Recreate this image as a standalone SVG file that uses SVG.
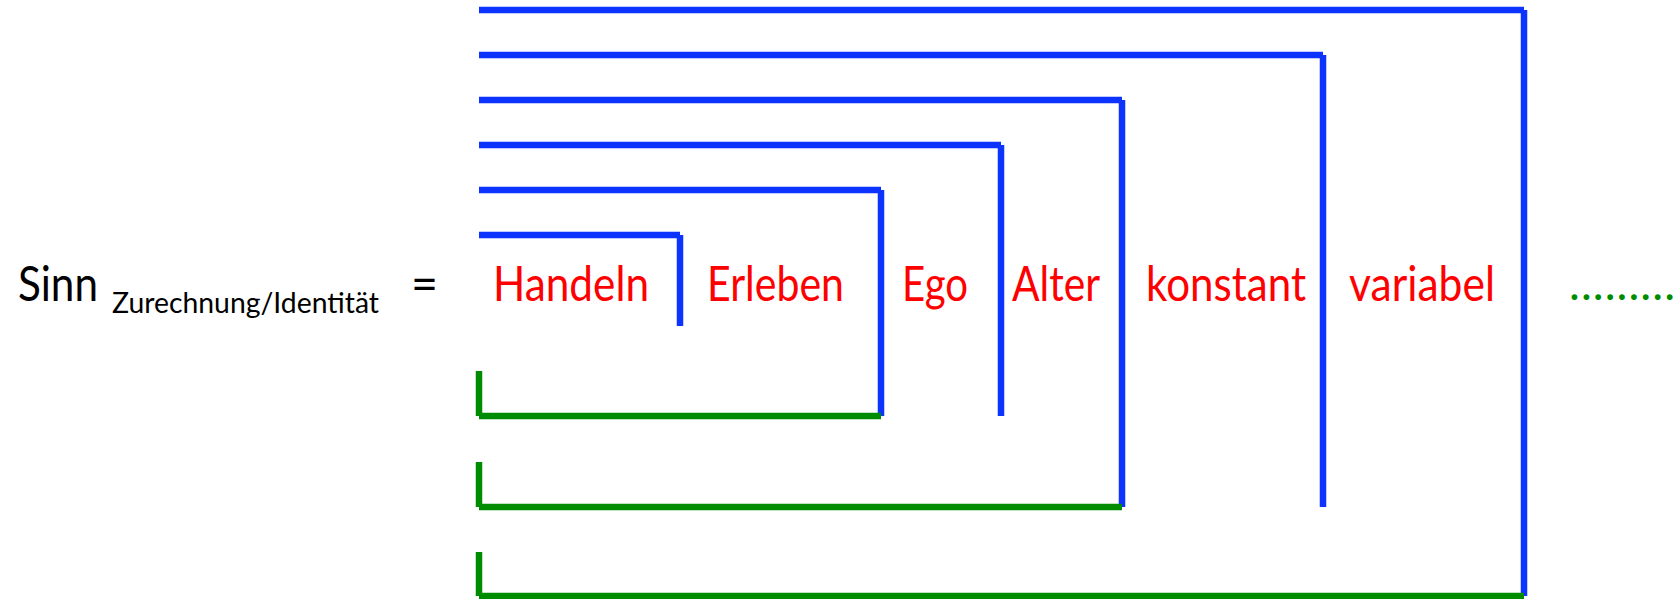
<svg xmlns="http://www.w3.org/2000/svg" width="1677" height="599" viewBox="0 0 1677 599">
<style>
.b{stroke:#0D33FF;stroke-width:6.5;fill:none;stroke-linecap:butt}
.g{stroke:#008C00;stroke-width:6.5;fill:none;stroke-linecap:butt}
.lbl{font-family:Lato,"Liberation Sans",sans-serif;font-size:49px;fill:#FF0000}
.blk{font-family:Lato,"Liberation Sans",sans-serif;fill:#000}
</style>
<rect width="1677" height="599" fill="#fff"/>
<g id="formula">
<text class="blk" x="18" y="301" font-size="49" textLength="80" lengthAdjust="spacingAndGlyphs">Sinn</text>
<text class="blk" x="112" y="313" font-size="29" textLength="267" lengthAdjust="spacingAndGlyphs">Zurechnung/Identität</text>
<text class="blk" x="411" y="301" font-size="49" textLength="27" lengthAdjust="spacingAndGlyphs">=</text>
</g>
<g id="connectors">
<line class="b" x1="479" y1="10" x2="1524" y2="10"/>
<line class="b" x1="1524" y1="10" x2="1524" y2="596"/>
<line class="b" x1="479" y1="55" x2="1323" y2="55"/>
<line class="b" x1="1323" y1="55" x2="1323" y2="507"/>
<line class="b" x1="479" y1="100" x2="1122" y2="100"/>
<line class="b" x1="1122" y1="100" x2="1122" y2="507"/>
<line class="b" x1="479" y1="145" x2="1001" y2="145"/>
<line class="b" x1="1001" y1="145" x2="1001" y2="416"/>
<line class="b" x1="479" y1="190" x2="881" y2="190"/>
<line class="b" x1="881" y1="190" x2="881" y2="416"/>
<line class="b" x1="479" y1="235" x2="680" y2="235"/>
<line class="b" x1="680" y1="235" x2="680" y2="326"/>
<line class="g" x1="479" y1="371" x2="479" y2="416"/>
<line class="g" x1="479" y1="416" x2="881" y2="416"/>
<line class="g" x1="479" y1="462" x2="479" y2="507"/>
<line class="g" x1="479" y1="507" x2="1122" y2="507"/>
<line class="g" x1="479" y1="552" x2="479" y2="596"/>
<line class="g" x1="479" y1="596" x2="1524" y2="596"/>
</g>
<g id="n-handeln"><text class="lbl" x="493" y="301" textLength="156" lengthAdjust="spacingAndGlyphs">Handeln</text></g>
<g id="n-erleben"><text class="lbl" x="707" y="301" textLength="137" lengthAdjust="spacingAndGlyphs">Erleben</text></g>
<g id="n-ego"><text class="lbl" x="902" y="301" textLength="66" lengthAdjust="spacingAndGlyphs">Ego</text></g>
<g id="n-alter"><text class="lbl" x="1012" y="301" textLength="88" lengthAdjust="spacingAndGlyphs">Alter</text></g>
<g id="n-konstant"><text class="lbl" x="1146" y="301" textLength="160" lengthAdjust="spacingAndGlyphs">konstant</text></g>
<g id="n-variabel"><text class="lbl" x="1349" y="301" textLength="146" lengthAdjust="spacingAndGlyphs">variabel</text></g>
<g id="n-dots"><text x="1569" y="300" font-family="Lato,'Liberation Sans',sans-serif" font-size="46" fill="#008C00" textLength="106" lengthAdjust="spacing">.........</text></g>
</svg>
